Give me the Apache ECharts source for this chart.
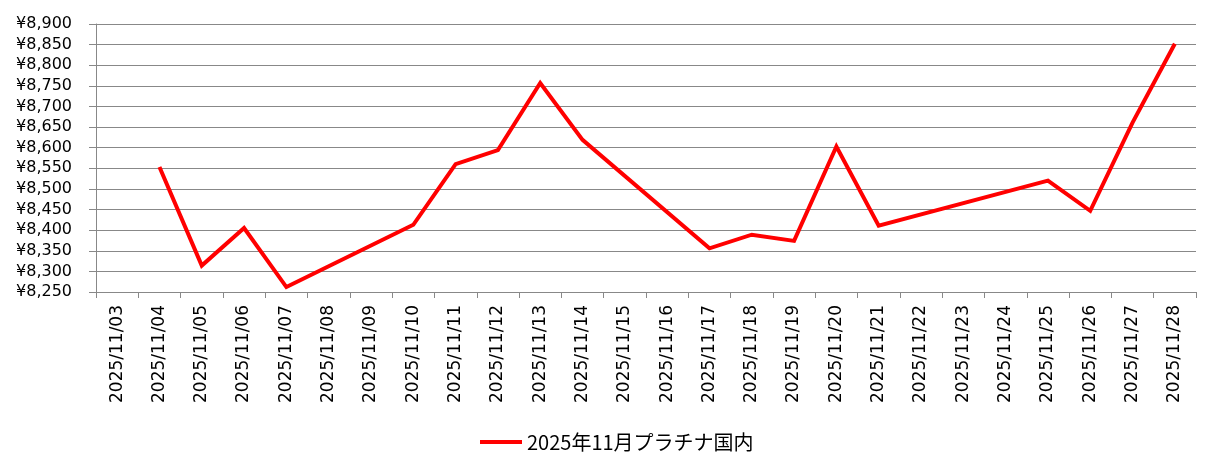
<!DOCTYPE html>
<html>
<head>
<meta charset="utf-8">
<script src="https://cdn.jsdelivr.net/npm/echarts@6/dist/echarts.min.js"></script>
<style>
html,body{margin:0;padding:0;background:#fff;}
#chart{width:1221px;height:471px;}
</style>
</head>
<body>
<div id="chart"></div>
<script>
const categories = [
  "2025/11/03","2025/11/04","2025/11/05","2025/11/06","2025/11/07","2025/11/08","2025/11/09",
  "2025/11/10","2025/11/11","2025/11/12","2025/11/13","2025/11/14","2025/11/15","2025/11/16",
  "2025/11/17","2025/11/18","2025/11/19","2025/11/20","2025/11/21","2025/11/22","2025/11/23",
  "2025/11/24","2025/11/25","2025/11/26","2025/11/27","2025/11/28"
];
const seriesName = "2025年11月プラチナ国内";
const prices = [
  null, 8553, 8314, 8405, 8262, null, null,
  8413, 8560, 8594, 8757, 8619, null, null,
  8356, 8389, 8374, 8603, 8411, null, null,
  null, 8520, 8447, 8661, 8852
];
const yMin = 8250, yMax = 8900, yStep = 50;

const chart = echarts.init(document.getElementById('chart'), null, {renderer: 'canvas'});
chart.setOption({
  animation: false,
  backgroundColor: '#ffffff',
  grid: {left: 96, right: 25, top: 24, bottom: 179, containLabel: false},
  legend: {
    show: true,
    top: 427,
    left: 475,
    itemWidth: 42,
    itemHeight: 4,
    itemGap: 4,
    icon: 'rect',
    textStyle: {fontFamily: '"Noto Sans CJK JP", "DejaVu Sans", sans-serif', fontSize: 20, color: '#000', padding: [0,0,0,0]},
    data: [{name: seriesName, icon: 'rect'}]
  },
  xAxis: {
    type: 'category',
    data: categories,
    boundaryGap: true,
    axisLine: {show: true, lineStyle: {color: '#888888', width: 1}},
    axisTick: {show: true, alignWithLabel: false, length: 6, lineStyle: {color: '#888888'}},
    axisLabel: {
      rotate: 90, interval: 0, margin: 13,
      fontFamily: '"DejaVu Sans", sans-serif', fontSize: 17, color: '#000'
    },
    splitLine: {show: false}
  },
  yAxis: {
    type: 'value',
    min: yMin, max: yMax, interval: yStep,
    axisLine: {show: true, lineStyle: {color: '#888888', width: 1}},
    axisTick: {show: true, length: 7, lineStyle: {color: '#888888'}},
    axisLabel: {
      margin: 24,
      fontFamily: '"DejaVu Sans", sans-serif', fontSize: 16, color: '#000',
      formatter: v => '¥' + v.toLocaleString('en-US')
    },
    splitLine: {show: true, lineStyle: {color: '#888888', width: 1}}
  },
  series: [{
    name: seriesName,
    type: 'line',
    data: prices,
    connectNulls: true,
    showSymbol: false,
    symbol: 'none',
    lineStyle: {color: '#ff0000', width: 4, join: 'miter'},
    itemStyle: {color: '#ff0000'}
  }]
});
</script>
</body>
</html>
